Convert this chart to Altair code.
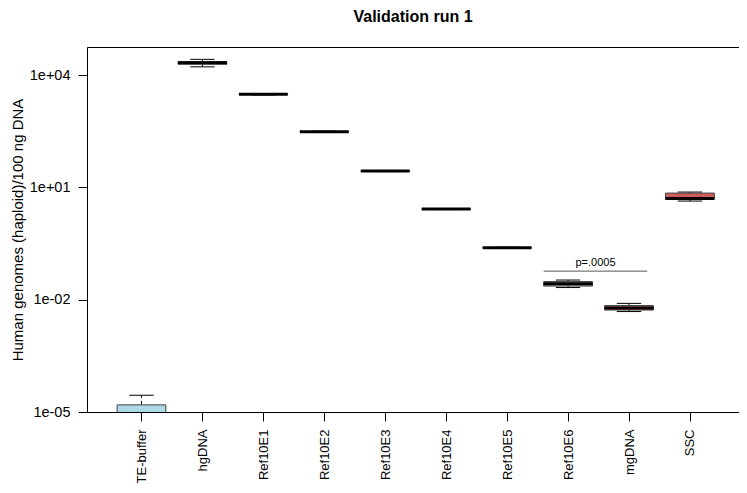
import altair as alt
import pandas as pd

names = ["TE-buffer", "hgDNA", "Ref10E1", "Ref10E2", "Ref10E3", "Ref10E4",
         "Ref10E5", "Ref10E6", "mgDNA", "SSC"]
whisk_lo = [3e-6, 16600, 2950, 295, 26.5, 2.56, 0.236, 0.0211, 0.00482, 4.31]
q1 = [4e-6, 19500, 3020, 300, 26.9, 2.60, 0.240, 0.0231, 0.00528, 4.79]
median = [6e-6, 21400, 3070, 306, 27.3, 2.64, 0.244, 0.0267, 0.00598, 5.01]
q3 = [1.55e-5, 22900, 3130, 312, 27.8, 2.68, 0.248, 0.0305, 0.00697, 7.05]
whisk_hi = [2.8e-5, 26300, 3200, 318, 28.2, 2.72, 0.252, 0.0335, 0.00798, 7.50]
fills = ["#ADD8E6", "#A6A6A6", "#A6A6A6", "#A6A6A6", "#A6A6A6", "#A6A6A6",
         "#A6A6A6", "#A6A6A6", "#CD5C5C", "#CD5C5C"]

# annotation
p_text = "p=.0005"
p_x = [7.6, 9.3]
p_y = 0.058
p_text_y = 0.079

pos = list(range(1, len(names) + 1))
df = pd.DataFrame({
    "pos": pos, "name": names, "lo": whisk_lo, "q1": q1, "med": median,
    "q3": q3, "hi": whisk_hi, "fill": fills,
})
df["bl"] = df["pos"] - 0.4
df["br"] = df["pos"] + 0.4
df["cl"] = df["pos"] - 0.2
df["cr"] = df["pos"] + 0.2

label_expr = "[" + ",".join("'" + n + "'" for n in names) + "][datum.value - 1]"
y_label_expr = ("datum.value >= 5000 ? '1e+04' : datum.value >= 5 ? '1e+01' : "
                "datum.value >= 0.005 ? '1e-02' : '1e-05'")

xscale = alt.Scale(domain=[0.106, 10.805], nice=False, zero=False)
yscale = alt.Scale(type="log", domain=[1e-5, 10 ** 4.75], nice=False)

base = alt.Chart(df)

x_axis = alt.Axis(values=pos, labelExpr=label_expr, labelAngle=-90, title=None,
                  grid=False, domain=False, tickColor="black", tickSize=9,
                  labelFontSize=13, labelFont="Liberation Sans", labelColor="black",
                  labelPadding=8, labelAlign="right", labelBaseline="middle")
y_axis = alt.Axis(values=[1e-5, 1e-2, 10, 1e4], labelExpr=y_label_expr,
                  title="Human genomes (haploid)/100 ng DNA", grid=False, domain=False,
                  tickColor="black", tickSize=9, labelFontSize=14.5,
                  labelFont="Liberation Sans", labelColor="black", labelPadding=8,
                  titleFontSize=15, titleFont="Liberation Sans", titleFontWeight="normal",
                  titleColor="black", titlePadding=4)

whisk_up = base.mark_rule(color="black", strokeDash=[4, 3], strokeWidth=1, clip=True).encode(
    x=alt.X("pos:Q", scale=xscale, axis=x_axis),
    y=alt.Y("q3:Q", scale=yscale, axis=y_axis),
    y2="hi:Q",
)
whisk_dn = base.mark_rule(color="black", strokeDash=[4, 3], strokeWidth=1, clip=True).encode(
    x="pos:Q", y="lo:Q", y2="q1:Q",
)
cap_hi = base.mark_rule(color="black", strokeWidth=1, clip=True).encode(
    x="cl:Q", x2="cr:Q", y="hi:Q",
)
cap_lo = base.mark_rule(color="black", strokeWidth=1, clip=True).encode(
    x="cl:Q", x2="cr:Q", y="lo:Q",
)
boxes = base.mark_rect(stroke="#444444", strokeWidth=1, clip=True).encode(
    x="bl:Q", x2="br:Q", y="q1:Q", y2="q3:Q",
    fill=alt.Fill("fill:N", scale=None),
)
meds = base.mark_rule(color="black", strokeWidth=3, clip=True).encode(
    x="bl:Q", x2="br:Q", y="med:Q",
)

ann_df = pd.DataFrame({"x1": [p_x[0]], "x2": [p_x[1]], "y": [p_y],
                       "tx": [(p_x[0] + p_x[1]) / 2], "ty": [p_text_y], "t": [p_text]})
ann_line = alt.Chart(ann_df).mark_rule(color="#555555", strokeWidth=1).encode(
    x="x1:Q", x2="x2:Q", y="y:Q",
)
ann_text = alt.Chart(ann_df).mark_text(fontSize=11, font="Liberation Sans", color="black",
                                       baseline="alphabetic", align="center").encode(
    x="tx:Q", y="ty:Q", text="t:N",
)

chart = alt.layer(whisk_up, whisk_dn, cap_hi, cap_lo, boxes, meds, ann_line, ann_text).properties(
    width=652, height=365,
    title=alt.TitleParams("Validation run 1", fontSize=16, font="Liberation Sans",
                          fontWeight="bold", color="black", offset=22),
    autosize=alt.AutoSizeParams(type="none"),
    padding={"left": 79, "top": 39, "right": 0, "bottom": 73},
).configure_view(stroke="black", strokeWidth=1)

chart.save("out.html", embed_options={"renderer": "svg", "actions": False})
